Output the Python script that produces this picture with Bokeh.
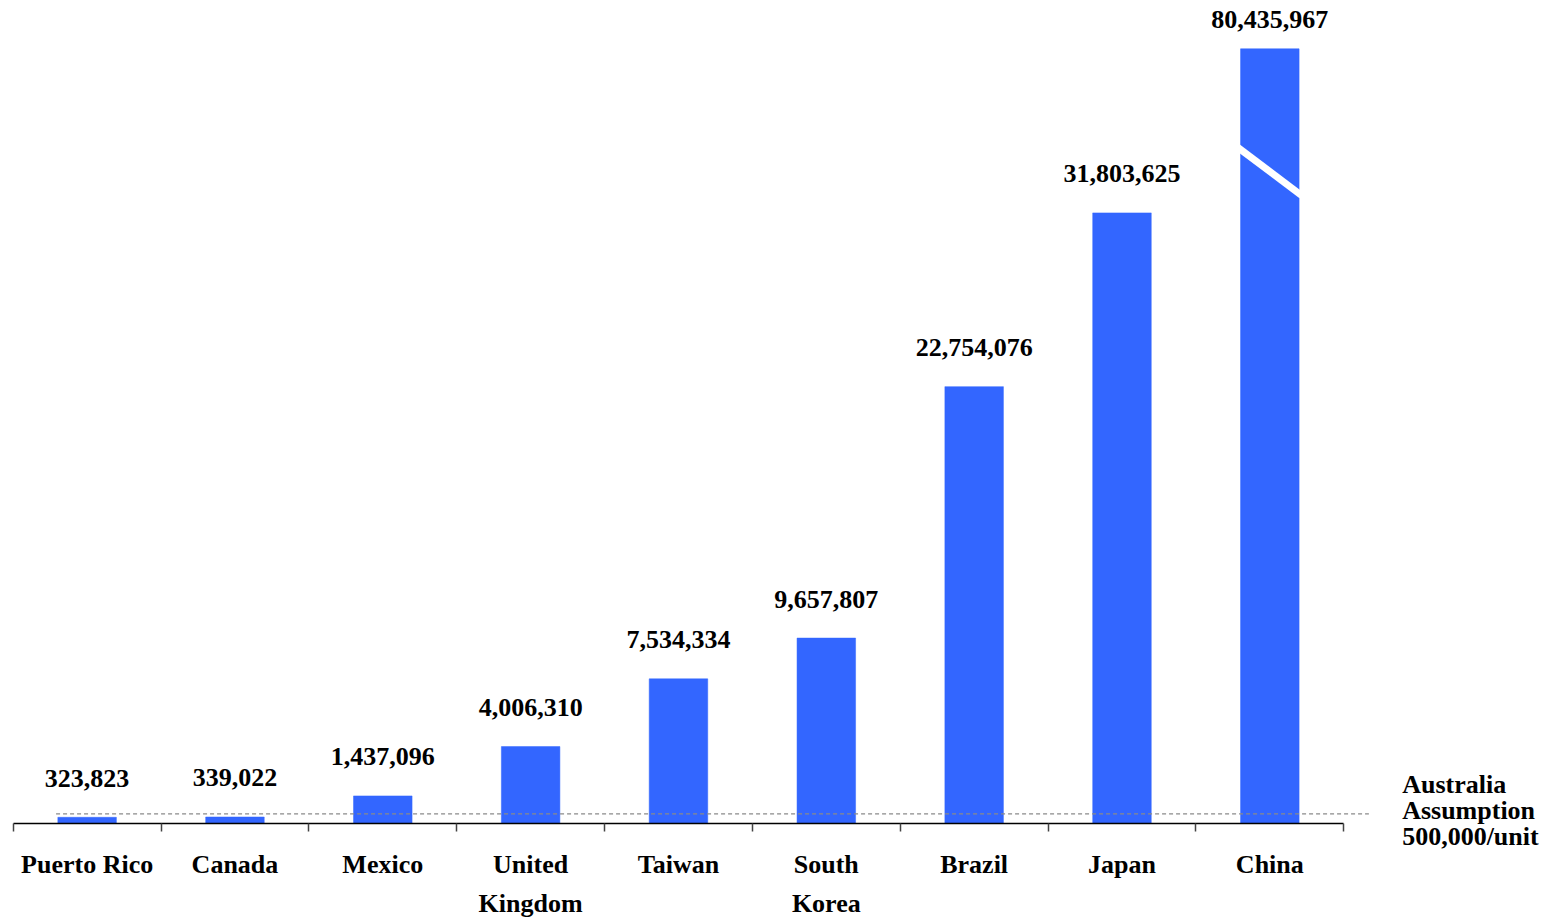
from bokeh.plotting import figure
from bokeh.models import Range1d, LinearAxis, FixedTicker, ColumnDataSource
from bokeh.core.properties import value
from bokeh.embed import file_html
from bokeh.resources import INLINE

# ---- data ----
countries = ["Puerto Rico", "Canada", "Mexico", "United\nKingdom", "Taiwan",
             "South\nKorea", "Brazil", "Japan", "China"]
units = [323823, 339022, 1437096, 4006310, 7534334, 9657807, 22754076, 31803625, 80435967]
value_labels = ["323,823", "339,022", "1,437,096", "4,006,310", "7,534,334",
                "9,657,807", "22,754,076", "31,803,625", "80,435,967"]
assumption = 500000
assumption_label = "Australia\nAssumption\n500,000/unit"

# axis-break settings (bar drawn truncated above this value)
break_cap = 40.35e6
break_hi = 35.10e6
break_lo = 32.81e6

FONT = "Liberation Serif"
BAR = "#3366FF"

n = len(countries)
xc = [i + 0.5 for i in range(n)]
shown = [min(v, break_cap) for v in units]

p = figure(width=1565, height=918, output_backend="svg", toolbar_location=None,
           x_range=Range1d(-0.0859, 10.500), y_range=Range1d(-4.948e6, 42.865e6),
           min_border=0, x_axis_location=None, y_axis_location=None)
p.grid.visible = False
p.outline_line_color = None
p.background_fill_color = "white"
p.border_fill_color = "white"

src = ColumnDataSource(dict(x=xc, top=shown, lab=value_labels, cat=countries))

p.vbar(x="x", top="top", bottom=0, width=0.396, source=src,
       fill_color=BAR, line_color=BAR, line_width=0.5)

# dashed assumption line (drawn over the bars)
p.line(x=[0.29, 9.17], y=[assumption, assumption], line_color="#8a8a8a",
       line_width=1.2, line_dash="4 3")

# break on the truncated bar
for i, v in enumerate(units):
    if v > break_cap:
        p.line(x=[xc[i] - 0.215, xc[i] + 0.215], y=[break_hi + 0.1e6, break_lo - 0.1e6],
               line_color="white", line_width=7)

# value labels
normal = [i for i, v in enumerate(units) if v <= break_cap]
capped = [i for i, v in enumerate(units) if v > break_cap]
p.text(x=[xc[i] for i in normal], y=[shown[i] for i in normal],
       text=[value_labels[i] for i in normal], text_align="center",
       text_baseline="alphabetic", y_offset=-39, text_font=value(FONT),
       text_font_style="bold", text_font_size="26px", text_color="black")
p.text(x=[xc[i] for i in capped], y=[shown[i] for i in capped],
       text=[value_labels[i] for i in capped], text_align="center",
       text_baseline="alphabetic", y_offset=-29, text_font=value(FONT),
       text_font_style="bold", text_font_size="26px", text_color="black")

# category labels
p.text(x="x", y=0, text="cat", source=src, text_align="center",
       text_baseline="top", y_offset=27, text_font=value(FONT),
       text_font_style="bold", text_font_size="26px", text_color="black",
       text_line_height=1.32)

# assumption label
p.text(x=[9.395], y=[assumption], text=[assumption_label], text_align="left",
       text_baseline="top", y_offset=-44, text_font=value(FONT),
       text_font_style="bold", text_font_size="26px", text_color="black",
       text_line_height=0.9)

# x axis at zero with ticks at category boundaries
ax = LinearAxis(ticker=FixedTicker(ticks=list(range(n + 1))), fixed_location=0,
                bounds=(0, n))
ax.major_label_overrides = {i: "" for i in range(n + 1)}
ax.major_tick_in = 0
ax.major_tick_out = 8
ax.minor_tick_line_color = None
ax.axis_line_color = "black"
ax.axis_line_width = 1.5
ax.major_tick_line_color = "#444444"
ax.major_tick_line_width = 1.5
p.add_layout(ax, "below")

open("out.html", "w").write(file_html(p, INLINE))
